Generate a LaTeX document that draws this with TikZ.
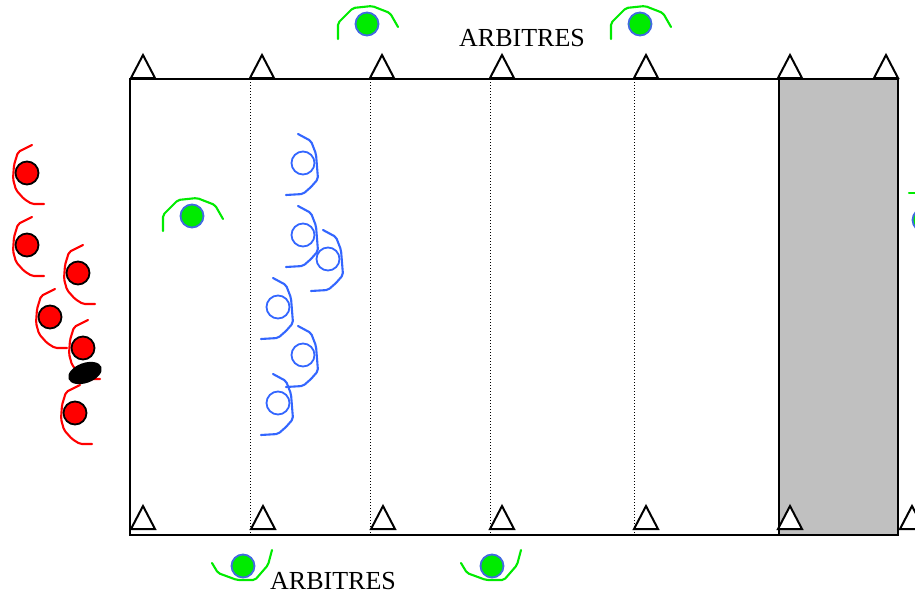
\documentclass[tikz,border=0pt]{standalone}
\usepackage{fontspec}
\setmainfont{Liberation Serif}
\usetikzlibrary{shapes.geometric}
\definecolor{teamred}{RGB}{255,0,0}
\definecolor{teamblue}{RGB}{51,102,255}
\definecolor{refgreen}{RGB}{0,235,0}
\definecolor{refring}{RGB}{65,105,225}
\definecolor{zone}{RGB}{192,192,192}

\begin{document}
\begin{tikzpicture}[x=1pt,y=-1pt,
  cone/.pic={\draw[fill=white,line width=2pt,line join=miter] (0,0) -- (24,0) -- (12,-23) -- cycle;},
  redplayer/.style={circle,draw=black,fill=teamred,line width=1.8pt,minimum size=23pt,inner sep=0pt},
  blueplayer/.style={circle,draw=teamblue,line width=1.8pt,minimum size=23pt,inner sep=0pt},
  referee/.style={circle,draw=refring,fill=refgreen,line width=1.8pt,minimum size=23pt,inner sep=0pt},
  armline/.style={line width=2.1pt,rounded corners=2pt,line cap=round},
  redarm/.pic={\draw[armline,teamred] (5,-28) -- (-9,-21) -- (-13,-8) -- (-14,6) -- (-11,17) -- (-3,26) -- (5,31) -- (17,31);},
  bluearm/.pic={\draw[armline,teamblue] (-5,-29) -- (8,-22) -- (13,-9) -- (15,16) -- (8,24) -- (0,31) -- (-17,32);},
  refup/.pic={\draw[armline,refgreen] (-29,15) -- (-29,-1) -- (-14,-16) -- (5,-18) -- (23,-11) -- (31,3);},
  refdown/.pic={\draw[armline,refgreen] (-31,-3) -- (-25,7) -- (-6,14) -- (12,14) -- (25,-1) -- (29,-16);},
  label/.style={font=\fontsize{26}{28}\selectfont,anchor=base,inner sep=0pt}
]
\useasboundingbox (0,0) rectangle (915,594);

% playing field and the shaded end zone
\draw[line width=1.8pt] (130,79) rectangle (898,535);
\draw[fill=zone,line width=2.2pt] (779,79) rectangle (898,535);
\foreach \x in {250,370,490,634}
  \draw[dotted,line width=1pt] (\x,79) -- (\x,535);

% cones along both touchlines
\foreach \x in {131,250,370,490,634,778,874}
  \pic at (\x,78) {cone};
\foreach \x in {131,251,371,490,634,778,900}
  \pic at (\x,529) {cone};

% attacking team (red) with the ball
\foreach \n/\px/\py in {r1/27/173,r2/27/245,r3/78/273,r4/50/317,r5/83/348,r7/75/413}{
  \pic at (\px,\py) {redarm};
  \node[redplayer] (\n) at (\px,\py) {};
}
\node[ellipse,fill=black,minimum width=35pt,minimum height=20pt,inner sep=0pt,rotate=20] (ball) at (85,373) {};

% defending team (blue)
\foreach \n/\px/\py in {b1/303/163,b2/303/235,b3/328/259,b4/278/307,b5/303/355,b6/278/403}{
  \pic at (\px,\py) {bluearm};
  \node[blueplayer] (\n) at (\px,\py) {};
}

% referees
\foreach \n/\px/\py in {g1/367/24,g2/640/24,g3/192/216}{
  \pic at (\px,\py) {refup};
  \node[referee] (\n) at (\px,\py) {};
}
\foreach \n/\px/\py in {g4/243/566,g5/492/566}{
  \pic at (\px,\py) {refdown};
  \node[referee] (\n) at (\px,\py) {};
}
\draw[armline,refgreen] (909,193) -- (930,193);
\node[referee] (g6) at (924,220) {};

\node[label] (arbtop) at (522,47) {ARBITRES};
\node[label] (arbbottom) at (333,589) {ARBITRES};
\end{tikzpicture}
\end{document}
